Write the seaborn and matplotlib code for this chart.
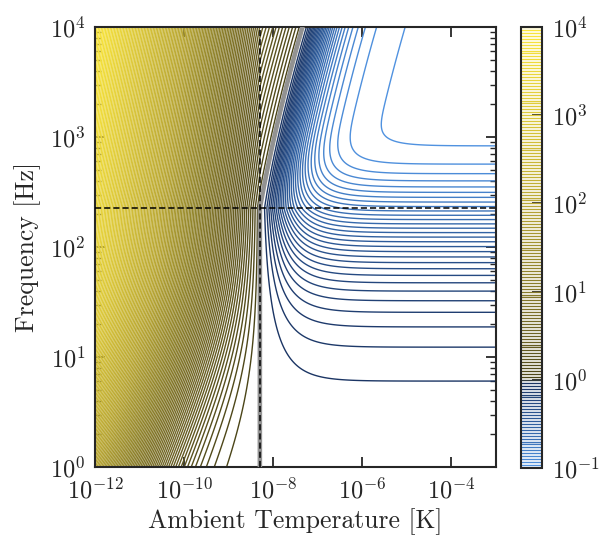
import numpy as np
import matplotlib
matplotlib.use("Agg")
import matplotlib.pyplot as plt
from matplotlib.colors import LinearSegmentedColormap, LogNorm
from matplotlib.ticker import LogLocator, NullLocator
import seaborn as sns

# values
T_star = 10 ** -8.30          # K, vertical dashed line
f_c = 226.0                   # Hz, horizontal dashed line
x_ticks = [1e-12, 1e-10, 1e-8, 1e-6, 1e-4]
y_ticks = [1e0, 1e1, 1e2, 1e3, 1e4]
cbar_ticks = [1e-1, 1e0, 1e1, 1e2, 1e3, 1e4]
level_lo, level_hi, per_decade = -1, 4, 30

# shape parameters of the field (estimated from the contour positions)
g_1hz = 0.0178       # cold side strength at 1 Hz
f_knee = 40.0        # Hz, where the cold side stops growing ~f
f_roll = 180.0       # Hz, roll off of the high-T plateau
z_floor = 1.01       # plateau depth in decades
wedge_slope = 0.45   # decades of value per decade of T in the wedge
curve_a, curve_b = 0.45, 0.08

# colour nodes on the log-normalised scale (0.1 -> 0, 1 -> 0.2, 1e4 -> 1)
cmap_pos = [0.0, 0.1, 0.199, 0.201, 0.3, 0.45, 0.6, 0.8, 1.0]
cmap_col = ['#5092e0', '#2f5e9e', '#1a3260', '#4a4418', '#6d6224',
            '#91842c', '#b9a734', '#dcc83a', '#fae63c']

sns.set_style("ticks")
plt.rcParams['font.family'] = 'serif'
plt.rcParams['font.serif'] = ['cmr10']
plt.rcParams['mathtext.fontset'] = 'cm'
plt.rcParams['axes.formatter.use_mathtext'] = True
plt.rcParams['axes.unicode_minus'] = False

# field on a log grid
xs = np.log10(T_star)
x = np.linspace(-12, -3, 1500)
y = np.linspace(0, 4, 1200)
X, Y = np.meshgrid(x, y)
T = 10 ** X
F = 10 ** Y
d = np.clip(Y - np.log10(f_c), 0, None)
xb = xs + curve_a * d + curve_b * d ** 2
Tb = 10 ** xb

g = g_1hz * F / (1 + F / f_knee)
z_cold = np.log10(1 + g * np.clip(T_star / T - 1, 0, None)) \
    + wedge_slope * (xb - np.maximum(X, xs))
z_inf = -z_floor * (1 - np.exp(-F / f_roll))
z_hot = z_inf * np.clip(1 - Tb / T, 0, None) ** 2
Z = np.where(X < xb, z_cold, z_hot)
V = 10 ** Z

cmap = LinearSegmentedColormap.from_list('bk_yl', list(zip(cmap_pos, cmap_col)))
levels = np.logspace(level_lo, level_hi, (level_hi - level_lo) * per_decade + 1)

fig = plt.figure(figsize=(6.06, 5.38), dpi=100)
ax = fig.add_axes([95 / 606, 71 / 538, 401 / 606, 440 / 538])
cax = fig.add_axes([521 / 606, 70 / 538, 21 / 606, 441 / 538])

ax.set_xscale('log')
ax.set_yscale('log')
cs = ax.contour(T, F, V, levels=levels, cmap=cmap,
                norm=LogNorm(10.0 ** level_lo, 10.0 ** level_hi), linewidths=1.0)

# boundary of the two regimes
fb = np.logspace(0, 4, 400)
db = np.clip(np.log10(fb) - np.log10(f_c), 0, None)
tb = 10 ** (xs + curve_a * db + curve_b * db ** 2)
sns.lineplot(x=tb, y=fb, sort=False, estimator=None, color='#929292',
             lw=3.3, ax=ax, zorder=3)
ax.axvline(T_star, color='k', lw=1.1, ls=(0, (4, 2)), zorder=4)
ax.axhline(f_c, color='k', lw=1.1, ls=(0, (4, 2)), zorder=4)

ax.set_xlim(1e-12, 1e-3)
ax.set_ylim(1e0, 1e4)
ax.set_xticks(x_ticks)
ax.xaxis.set_minor_locator(NullLocator())
ax.set_yticks(y_ticks)
ax.yaxis.set_minor_locator(LogLocator(subs=np.arange(2, 10)))
ax.tick_params(which='both', direction='in', top=True, right=True, labelsize=17.5)
ax.tick_params(which='major', length=7, width=1.3)
ax.tick_params(which='minor', length=4, width=1.0)
ax.tick_params(axis='y', which='both', pad=7)
ax.tick_params(axis='x', which='both', pad=7.5)
for s in ax.spines.values():
    s.set_linewidth(1.5)
ax.set_xlabel('Ambient Temperature [K]', fontsize=18.5, labelpad=4)
ax.set_ylabel('Frequency [Hz]', fontsize=18.5, labelpad=6)

cb = fig.colorbar(cs, cax=cax)
cb.set_ticks(cbar_ticks)
cb.minorticks_off()
cax.tick_params(direction='in', length=7, width=1.3, labelsize=17.5, pad=7)
cb.outline.set_linewidth(1.5)

fig.savefig('out.png', dpi=100)
